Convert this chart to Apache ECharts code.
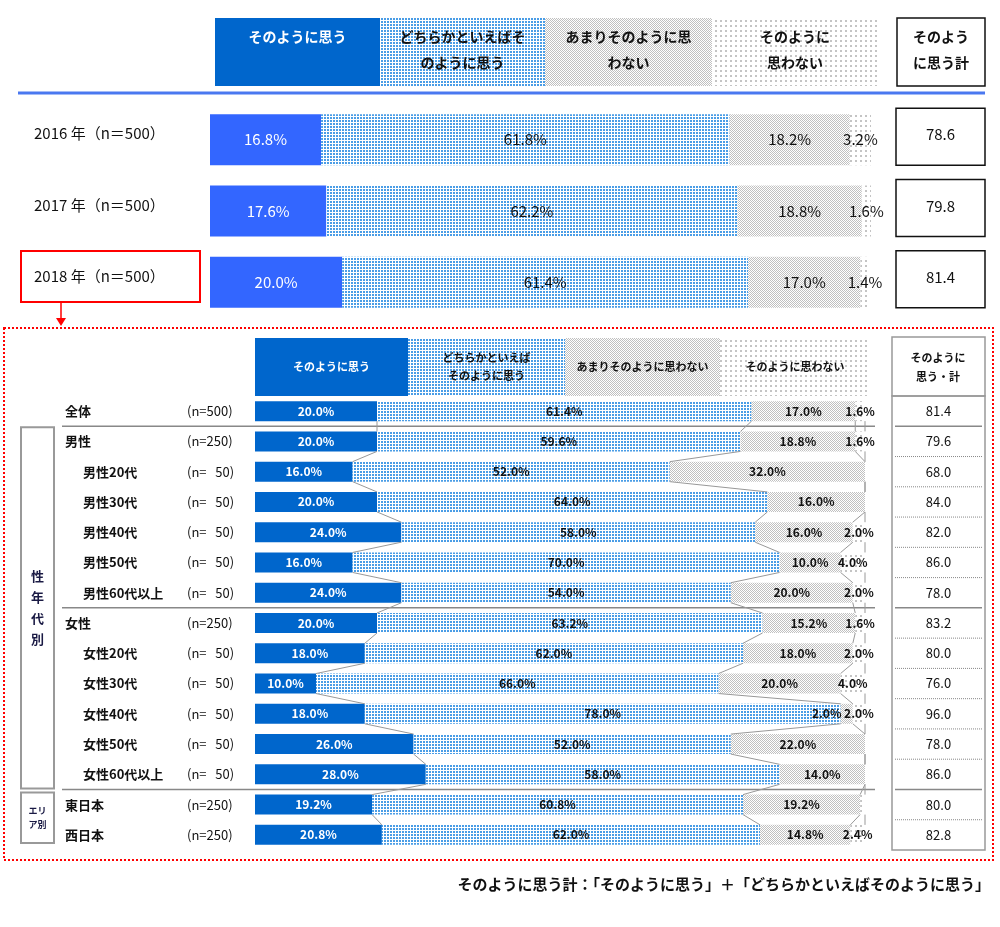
<!DOCTYPE html>
<html><head><meta charset="utf-8">
<script src="https://cdn.jsdelivr.net/npm/echarts@6/dist/echarts.min.js"></script>
<style>html,body{margin:0;padding:0;background:#fff}#main{width:1000px;height:927px}</style>
</head><body><div id="main"></div>
<script>
// ---- data ----
const upperCats = ['2016 年（n＝500）', '2017 年（n＝500）', '2018 年（n＝500）'];
const upperS1 = [16.8, 17.6, 20.0];
const upperS2 = [61.8, 62.2, 61.4];
const upperS3 = [18.2, 18.8, 17.0];
const upperS4 = [3.2, 1.6, 1.4];
const upperTotal = [78.6, 79.8, 81.4];

const lowerNames = ['全体','男性','男性20代','男性30代','男性40代','男性50代','男性60代以上','女性','女性20代','女性30代','女性40代','女性50代','女性60代以上','東日本','西日本'];
const lowerN = ['(n=500)','(n=250)','(n=   50)','(n=   50)','(n=   50)','(n=   50)','(n=   50)','(n=250)','(n=   50)','(n=   50)','(n=   50)','(n=   50)','(n=   50)','(n=250)','(n=250)'];
const lowerS1 = [20.0, 20.0, 16.0, 20.0, 24.0, 16.0, 24.0, 20.0, 18.0, 10.0, 18.0, 26.0, 28.0, 19.2, 20.8];
const lowerS2 = [61.4, 59.6, 52.0, 64.0, 58.0, 70.0, 54.0, 63.2, 62.0, 66.0, 78.0, 52.0, 58.0, 60.8, 62.0];
const lowerS3 = [17.0, 18.8, 32.0, 16.0, 16.0, 10.0, 20.0, 15.2, 18.0, 20.0, 2.0, 22.0, 14.0, 19.2, 14.8];
const lowerS4 = [1.6, 1.6, 0, 0, 2.0, 4.0, 2.0, 1.6, 2.0, 4.0, 2.0, 0, 0, 0.8, 2.4];
const lowerTotal = [81.4, 79.6, 68.0, 84.0, 82.0, 86.0, 78.0, 83.2, 80.0, 76.0, 96.0, 78.0, 86.0, 80.0, 82.8];
const groupBreaks = [0, 6, 12];

const seriesNames = ['そのように思う', 'どちらかといえばそのように思う', 'あまりそのように思わない', 'そのように思わない'];

// ---- patterns ----
function pat(size, draw) {
  const c = document.createElement('canvas');
  c.width = size; c.height = size;
  const g = c.getContext('2d');
  g.fillStyle = '#fff'; g.fillRect(0, 0, size, size);
  draw(g);
  return { image: c, repeat: 'repeat' };
}
const bluePat = pat(3, g => { g.fillStyle = '#4a9de6'; g.fillRect(0, 0, 2, 2); });
const grayPat = pat(2, g => { g.fillStyle = '#c0c0c0'; g.fillRect(0, 0, 1, 1); g.fillRect(1, 1, 1, 1); });
const lightPat = pat(5, g => { g.fillStyle = '#c4c4c4'; g.fillRect(0, 0, 2, 2); });

const FONT = '"Noto Sans CJK JP", "Noto Sans", sans-serif';
const upperColors = ['#3366ff', bluePat, grayPat, lightPat];
const lowerColors = ['#0066cc', bluePat, grayPat, lightPat];

const chart = echarts.init(document.getElementById('main'));

const fmt = p => (p.value < 1 ? '' : p.value.toFixed(1) + '%');

function cumRow(i) {
  const a = lowerS1[i], b = a + lowerS2[i], c = b + lowerS3[i], d = c + lowerS4[i];
  return [a, b, c, d];
}

const upperData = [upperS1, upperS2, upperS3, upperS4];
const lowerData = [lowerS1, lowerS2, lowerS3, lowerS4];

const series = [];
upperData.forEach((d, k) => {
  series.push({
    name: seriesNames[k], type: 'bar', stack: 'u', xAxisIndex: 0, yAxisIndex: 0,
    barWidth: 51, data: d,
    itemStyle: { color: upperColors[k] },
    label: { show: true, position: 'inside', formatter: fmt, fontFamily: FONT, fontSize: 15,
      color: k === 0 ? '#fff' : '#111' }
  });
});
lowerData.forEach((d, k) => {
  series.push({
    name: seriesNames[k], type: 'bar', stack: 'l', xAxisIndex: 1, yAxisIndex: 1,
    barWidth: 20,
    // a very narrow third segment gets its label nudged left so it does not collide with the fourth
    data: d.map(v => (k === 2 && v < 5) ? { value: v, label: { offset: [-20, 0] } } : v),
    itemStyle: { color: lowerColors[k] },
    label: { show: true, position: 'inside', formatter: fmt, fontFamily: FONT, fontSize: 12,
      color: k === 0 ? '#fff' : '#111', fontWeight: 'bold' }
  });
});
// series lines between consecutive rows
series.push({
  type: 'custom', xAxisIndex: 1, yAxisIndex: 1, silent: true, z: 5,
  data: lowerNames.slice(0, -1).map((n, i) => [0, i]),
  encode: { x: 0, y: 1 },
  renderItem: function (params, api) {
    const i = params.dataIndex;
    const cA = cumRow(i), cB = cumRow(i + 1);
    const half = 10;
    const children = [];
    for (let k = 0; k < 4; k++) {
      const a = api.coord([cA[k], i]);
      const b = api.coord([cB[k], i + 1]);
      children.push({ type: 'line', shape: { x1: a[0], y1: a[1] + half, x2: b[0], y2: b[1] - half },
        style: { stroke: '#999', lineWidth: 1 } });
    }
    return { type: 'group', children };
  }
});
// lower totals table
series.push({
  type: 'custom', xAxisIndex: 2, yAxisIndex: 2, silent: true,
  data: lowerTotal.map((v, i) => [0.5, i, v]),
  encode: { x: 0, y: 1 },
  renderItem: function (params, api) {
    const i = params.dataIndex;
    const cs = params.coordSys;
    const c = api.coord([0.5, i]);
    const band = api.size([0, 1])[1];
    const children = [{
      type: 'text', style: { x: c[0], y: c[1], text: api.value(2).toFixed(1), align: 'center', verticalAlign: 'middle',
        fontFamily: FONT, fontSize: 13, fill: '#111' }
    }];
    if (i < lowerTotal.length - 1) {
      const solid = groupBreaks.indexOf(i) >= 0;
      const y = c[1] + band / 2;
      children.push({ type: 'line', shape: { x1: cs.x + 3, y1: y, x2: cs.x + cs.width - 3, y2: y },
        style: { stroke: '#888', lineWidth: solid ? 1.5 : 1, lineDash: solid ? null : [1, 1] } });
    }
    if (i === 0) {
      children.push({ type: 'rect', shape: { x: cs.x, y: cs.y, width: cs.width, height: cs.height },
        style: { fill: 'none', stroke: '#999', lineWidth: 1.5 } });
    }
    return { type: 'group', children };
  }
});
// upper totals boxes
series.push({
  type: 'custom', xAxisIndex: 3, yAxisIndex: 3, silent: true,
  data: upperTotal.map((v, i) => [0.5, i, v]),
  encode: { x: 0, y: 1 },
  renderItem: function (params, api) {
    const i = params.dataIndex;
    const cs = params.coordSys;
    const c = api.coord([0.5, i]);
    const h = 57;
    return { type: 'group', children: [
      { type: 'rect', shape: { x: cs.x, y: c[1] - h / 2 - 3, width: cs.width, height: h },
        style: { fill: '#fff', stroke: '#111', lineWidth: 1.5 } },
      { type: 'text', style: { x: c[0], y: c[1] - 5, text: api.value(2).toFixed(1), align: 'center', verticalAlign: 'middle',
        fontFamily: FONT, fontSize: 15, fill: '#111' } }
    ] };
  }
});

const option = {
  animation: false,
  backgroundColor: '#fff',
  grid: [
    { left: 210, width: 661, top: 104, height: 214 },
    { left: 255, width: 610, top: 396, height: 454 },
    { left: 892, width: 93, top: 396, height: 454 },
    { left: 896, width: 89, top: 104, height: 214 }
  ],
  xAxis: [
    { gridIndex: 0, type: 'value', min: 0, max: 100, show: false },
    { gridIndex: 1, type: 'value', min: 0, max: 100, show: false },
    { gridIndex: 2, type: 'value', min: 0, max: 1, show: false },
    { gridIndex: 3, type: 'value', min: 0, max: 1, show: false }
  ],
  yAxis: [
    { gridIndex: 0, type: 'category', data: upperCats, inverse: true,
      axisLine: { show: false }, axisTick: { show: false }, splitLine: { show: false },
      axisLabel: { align: 'left', margin: 176, fontFamily: FONT, fontSize: 15, color: '#111',
        verticalAlign: 'bottom', lineHeight: 12 } },
    { gridIndex: 1, type: 'category', data: lowerNames, inverse: true,
      axisLine: { show: false }, axisTick: { show: false }, splitLine: { show: false },
      axisLabel: { align: 'left', margin: 190, interval: 0,
        formatter: function (v, idx) {
          const sub = v.indexOf('代') >= 0;
          return (sub ? '{sub|' + v + '}' : '{main|' + v + '}') + '{n|' + lowerN[idx] + '}';
        },
        rich: {
          main: { width: 122, fontFamily: FONT, fontSize: 13, fontWeight: 'bold', color: '#111' },
          sub: { width: 104, padding: [0, 0, 0, 18], fontFamily: FONT, fontSize: 13, fontWeight: 'bold', color: '#111' },
          n: { fontFamily: FONT, fontSize: 13, color: '#111' }
        } } },
    { gridIndex: 2, type: 'category', data: lowerNames, inverse: true, show: false },
    { gridIndex: 3, type: 'category', data: upperCats, inverse: true, show: false }
  ],
  series: series
};
chart.setOption(option);

// ---- decorations ----
const band = 454 / lowerNames.length;
const yc = i => chart.convertToPixel({ yAxisIndex: 1 }, i);
const g = [];
function txt(x, y, text, size, color, opts) {
  return Object.assign({ type: 'text', x: x, y: y, style: Object.assign({ text: text, fontFamily: FONT, fontSize: size,
    fontWeight: 'bold', fill: color, align: 'center', verticalAlign: 'middle', lineHeight: size * 1.85 }, opts || {}) });
}
// top header
const topBoxes = [[215, 380], [380, 545], [545, 712], [712, 878]];
const topFills = ['#0066cc', bluePat, grayPat, lightPat];
const topTexts = ['そのように思う', 'どちらかといえばそ\nのように思う', 'あまりそのように思\nわない', 'そのように\n思わない'];
topBoxes.forEach((b, k) => {
  g.push({ type: 'rect', shape: { x: b[0], y: 18, width: b[1] - b[0], height: 68 }, style: { fill: topFills[k] } });
  g.push(txt((b[0] + b[1]) / 2, 24, topTexts[k], 14, k === 0 ? '#fff' : '#111', { verticalAlign: 'top', lineHeight: 26 }));
});
g.push({ type: 'rect', shape: { x: 897, y: 18, width: 88, height: 68 }, style: { fill: '#fff', stroke: '#111', lineWidth: 1.5 } });
g.push(txt(941, 24, 'そのよう\nに思う計', 14, '#111', { verticalAlign: 'top', lineHeight: 26 }));
g.push({ type: 'line', shape: { x1: 18, y1: 93, x2: 985, y2: 93 }, style: { stroke: '#4a78f0', lineWidth: 3 } });

// red highlight box and arrow
g.push({ type: 'rect', shape: { x: 21, y: 251, width: 179, height: 51 }, style: { fill: 'none', stroke: '#ff0000', lineWidth: 2 } });
g.push({ type: 'line', shape: { x1: 61, y1: 302, x2: 61, y2: 320 }, style: { stroke: '#ff0000', lineWidth: 1.5 } });
g.push({ type: 'polygon', shape: { points: [[56, 318], [66, 318], [61, 326]] }, style: { fill: '#ff0000' } });
g.push({ type: 'rect', shape: { x: 4, y: 328, width: 989, height: 532 }, style: { fill: 'none', stroke: '#ff0000', lineWidth: 2, lineDash: [2, 2] } });

// lower header
const lowBoxes = [[255, 408], [408, 565], [565, 720], [720, 870]];
const lowTexts = ['そのように思う', 'どちらかといえば\nそのように思う', 'あまりそのように思わない', 'そのように思わない'];
lowBoxes.forEach((b, k) => {
  g.push({ type: 'rect', shape: { x: b[0], y: 338, width: b[1] - b[0], height: 58 }, style: { fill: topFills[k] } });
  g.push(txt((b[0] + b[1]) / 2, 367, lowTexts[k], 11, k === 0 ? '#fff' : '#111', { lineHeight: 18 }));
});
g.push({ type: 'rect', shape: { x: 892, y: 337, width: 93, height: 59 }, style: { fill: '#fff', stroke: '#999', lineWidth: 1.5 } });
g.push(txt(938, 367, 'そのように\n思う・計', 11, '#111', { lineHeight: 19 }));

// group separators
groupBreaks.forEach(i => {
  const y = (yc(i) + yc(i + 1)) / 2;
  g.push({ type: 'line', shape: { x1: 62, y1: y, x2: 875, y2: y }, style: { stroke: '#888', lineWidth: 1.5 } });
});
// group boxes
const t1 = yc(1) - band / 2 + 1, b1 = yc(12) + band / 2 - 1;
g.push({ type: 'rect', shape: { x: 21, y: t1, width: 33, height: b1 - t1 }, style: { fill: 'none', stroke: '#999', lineWidth: 2 } });
g.push(txt(37.5, (t1 + b1) / 2, '性\n年\n代\n別', 13, '#1a1a44', { lineHeight: 21 }));
const t2 = yc(13) - band / 2 + 3, b2 = yc(14) + band / 2 - 7;
g.push({ type: 'rect', shape: { x: 21, y: t2, width: 33, height: b2 - t2 }, style: { fill: 'none', stroke: '#999', lineWidth: 2 } });
g.push(txt(37.5, (t2 + b2) / 2, 'エリ\nア別', 9, '#1a1a44', { lineHeight: 14 }));

// footnote
g.push(txt(990, 884, 'そのように思う計：「そのように思う」＋「どちらかといえばそのように思う」', 15, '#111', { align: 'right' }));

chart.setOption({ graphic: { elements: g } });
</script></body></html>
